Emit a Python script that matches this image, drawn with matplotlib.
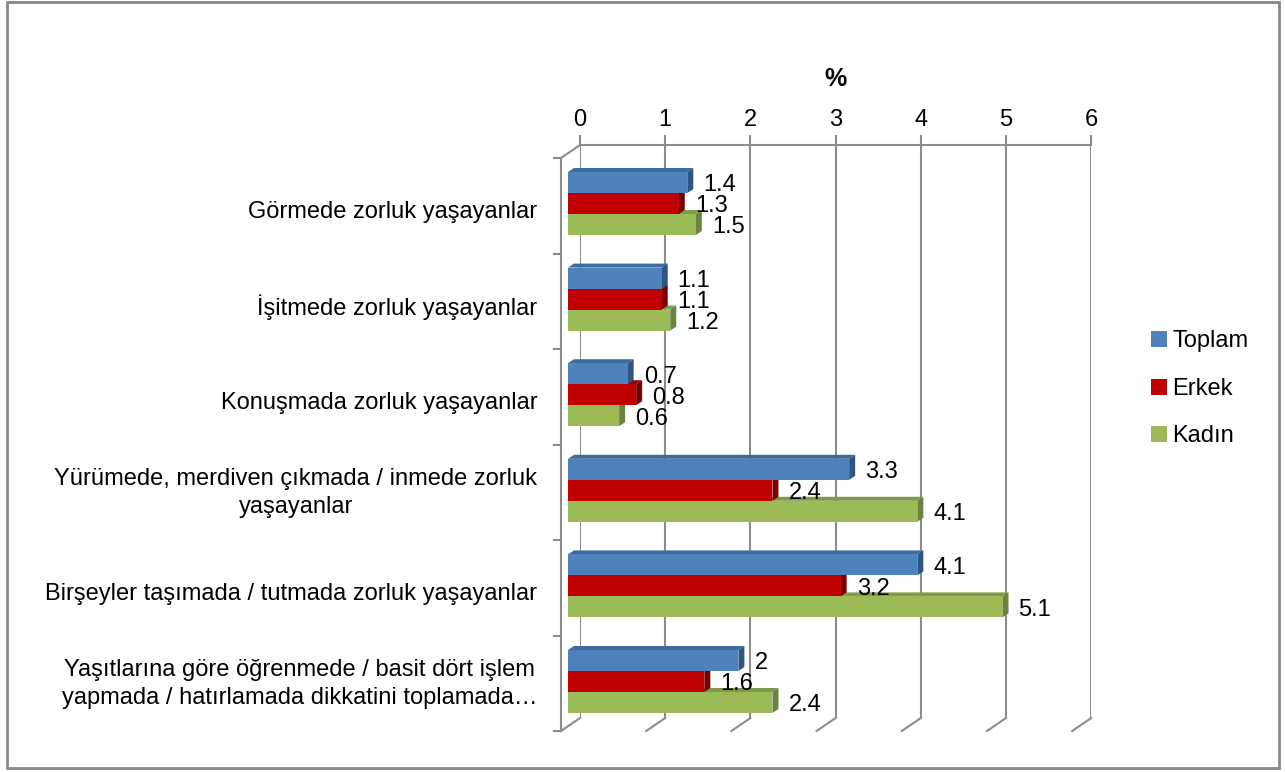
import matplotlib
matplotlib.use("Agg")
import matplotlib.pyplot as plt
from matplotlib.patches import Polygon, Patch, Rectangle
import numpy as np

plt.rcParams['font.family'] = ['Liberation Sans', 'DejaVu Sans']

categories = [
    "Görmede zorluk yaşayanlar",
    "İşitmede zorluk yaşayanlar",
    "Konuşmada zorluk yaşayanlar",
    "Yürümede, merdiven çıkmada / inmede zorluk\nyaşayanlar",
    "Birşeyler taşımada / tutmada zorluk yaşayanlar",
    "Yaşıtlarına göre öğrenmede / basit dört işlem\nyapmada / hatırlamada dikkatini toplamada…",
]
series_names = ["Toplam", "Erkek", "Kadın"]
toplam = [1.4, 1.1, 0.7, 3.3, 4.1, 2.0]
erkek = [1.3, 1.1, 0.8, 2.4, 3.2, 1.6]
kadin = [1.5, 1.2, 0.6, 4.1, 5.1, 2.4]
x_ticks = [0, 1, 2, 3, 4, 5, 6]

front_colors = ["#4F81BD", "#C00000", "#9BBB59"]
top_colors = ["#3F6A9E", "#A00000", "#7F9A48"]
side_colors = ["#2F5583", "#7A0000", "#6A8340"]
grid_color = "#8C8C8C"
FS = 17

W, H = 1285, 772
fig = plt.figure(figsize=(W / 100, H / 100), dpi=100)

def frac(left, top, right, bottom):
    return [left / W, 1 - bottom / H, (right - left) / W, (bottom - top) / H]

# back wall (gridlines + top tick labels)
ax_back = fig.add_axes(frac(580, 145, 1091.2, 718))
ax_back.set_xlim(0, 6)
ax_back.set_ylim(5.5, -0.5)
ax_back.set_xticks(x_ticks)
ax_back.xaxis.tick_top()
ax_back.tick_params(axis='x', length=7, width=1.5, color=grid_color, labelsize=FS, pad=3)
ax_back.set_yticks([])
for s in ax_back.spines.values():
    s.set_visible(False)
ax_back.spines['top'].set_visible(True)
ax_back.spines['top'].set_color(grid_color)
ax_back.spines['top'].set_linewidth(1.5)
ax_back.grid(axis='x', color=grid_color, linewidth=1.5)
ax_back.set_xlabel('%', fontsize=18, fontweight='bold', labelpad=17)
ax_back.xaxis.set_label_position('top')
ax_back.patch.set_alpha(0)

# floor / side wall outline, in back-wall data units
dx_f = -19 / 85.2
dy_f = 13 / 95.5
for xv in x_ticks:
    ax_back.plot([xv, xv + dx_f], [5.5, 5.5 + dy_f], color=grid_color, lw=1.5, clip_on=False)
ax_back.plot([0, dx_f], [-0.5, -0.5 + dy_f], color=grid_color, lw=1.5, clip_on=False)
ax_back.plot([dx_f, dx_f], [-0.5 + dy_f, 5.5 + dy_f], color=grid_color, lw=1.5, clip_on=False)
for k in range(7):
    yk = -0.5 + k + dy_f
    ax_back.plot([dx_f, dx_f - 7 / 85.2], [yk, yk], color=grid_color, lw=1.5, clip_on=False)

# front plane of the bars
ax = fig.add_axes(frac(568, 155.7, 1079.2, 729.3))
ax.set_xlim(0, 6)
ax.set_ylim(5.5, -0.5)
ax.patch.set_alpha(0)
for s in ax.spines.values():
    s.set_visible(False)
ax.set_xticks([])
y = np.arange(len(categories))
label_shift = [-0.03 if "\n" in c else 0.06 for c in categories]
ax.set_yticks(y + np.array(label_shift))
ax.set_yticklabels(categories, fontsize=FS, multialignment='center', linespacing=1.35)
ax.tick_params(axis='y', length=0, pad=22)

bh = 21 / 95.6
ddx = 6 / 85.2
ddy = 4 / 95.6
series = [toplam, erkek, kadin]
offsets = [-bh, 0, bh]
for si in [2, 1, 0]:
    vals = series[si]
    ys = y + offsets[si]
    for v, yc in zip(vals, ys):
        yt, yb = yc - bh / 2, yc + bh / 2
        ax.add_patch(Polygon([(0, yt), (v, yt), (v + ddx, yt - ddy), (ddx, yt - ddy)],
                             closed=True, facecolor=top_colors[si], edgecolor='none', clip_on=False))
        ax.add_patch(Polygon([(v, yt), (v, yb), (v + ddx, yb - ddy), (v + ddx, yt - ddy)],
                             closed=True, facecolor=side_colors[si], edgecolor='none', clip_on=False))
    ax.barh(ys, vals, height=bh, color=front_colors[si], edgecolor='none', clip_on=False)
    for v, yc in zip(vals, ys):
        ax.text(v + 16 / 85.2, yc + 0.03, f"{v:g}", fontsize=FS, va='center', ha='left')

handles = [Patch(facecolor=c, edgecolor='none') for c in front_colors]
fig.legend(handles, series_names, loc='center left', bbox_to_anchor=(1130 / W, 1 - 389 / H),
           frameon=False, fontsize=FS, handlelength=0.65, handleheight=0.65,
           handletextpad=0.25, labelspacing=1.08)

fig.patches.append(Rectangle((7 / W, 4 / H), 1272 / W, 766 / H, transform=fig.transFigure,
                             fill=False, edgecolor='#888888', linewidth=2))

fig.savefig('out.png', dpi=100)
